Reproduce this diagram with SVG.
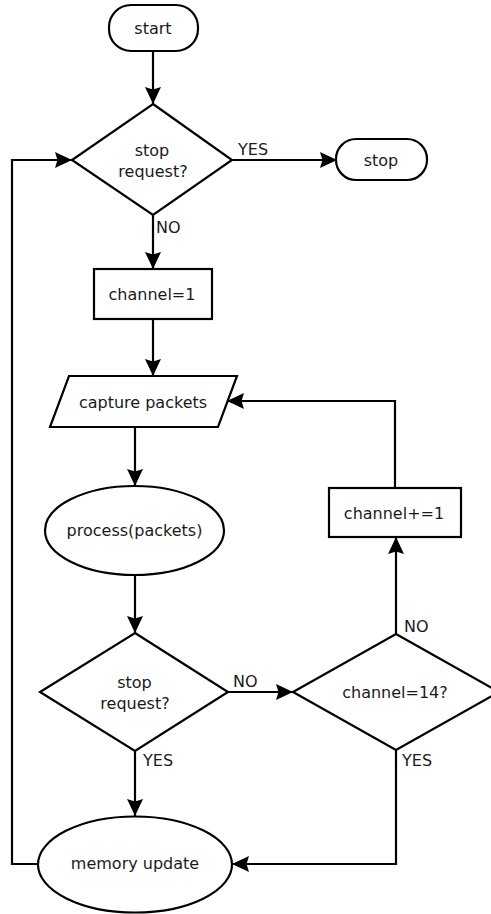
<svg xmlns="http://www.w3.org/2000/svg" width="491" height="914" viewBox="0 0 491 914">
<defs>
<style>
.s{fill:#fff;stroke:#000;stroke-width:2.2}
.c{fill:none;stroke:#000;stroke-width:2.2}
text{font-family:"DejaVu Sans",sans-serif;font-size:16px;fill:#1a1a1a}
.m{text-anchor:middle}
</style>
<marker id="a" viewBox="0 0 17 16" refX="17" refY="8" markerWidth="17" markerHeight="16" markerUnits="userSpaceOnUse" orient="auto">
<path d="M0,0 L17,8 L0,16 L2.5,8 Z" fill="#000"/>
</marker>
</defs>
<rect width="491" height="914" fill="#fff"/>
<g id="connectors">
<path class="c" d="M153,52 V104" marker-end="url(#a)"/>
<path class="c" d="M232,160 H337" marker-end="url(#a)"/>
<path class="c" d="M38,864 H12 V160 H72" marker-end="url(#a)"/>
<path class="c" d="M153,215 V269" marker-end="url(#a)"/>
<path class="c" d="M153,319 V376" marker-end="url(#a)"/>
<path class="c" d="M395,488 V401 H227" marker-end="url(#a)"/>
<path class="c" d="M135,427 V486" marker-end="url(#a)"/>
<path class="c" d="M135,575 V633" marker-end="url(#a)"/>
<path class="c" d="M228,692 H293" marker-end="url(#a)"/>
<path class="c" d="M396,634 V537" marker-end="url(#a)"/>
<path class="c" d="M135,751 V816" marker-end="url(#a)"/>
<path class="c" d="M396,750 V864 H232" marker-end="url(#a)"/>
<text x="238" y="155">YES</text>
<text x="156" y="233">NO</text>
<text x="233" y="687">NO</text>
<text x="404" y="632">NO</text>
<text x="143" y="766">YES</text>
<text x="402" y="766">YES</text>
</g>
<g id="start">
<rect class="s" x="109" y="5" width="89" height="46" rx="22"/>
<text class="m" x="153" y="34">start</text>
</g>
<g id="stop-request-1">
<polygon class="s" points="153,104 232,160 153,215 72,160"/>
<text class="m" x="152" y="156">stop</text>
<text class="m" x="153" y="177">request?</text>
</g>
<g id="stop">
<rect class="s" x="336" y="139" width="91" height="41" rx="20"/>
<text class="m" x="381" y="166">stop</text>
</g>
<g id="channel-1">
<rect class="s" x="94" y="269" width="118" height="50"/>
<text class="m" x="152" y="300">channel=1</text>
</g>
<g id="capture-packets">
<polygon class="s" points="69,376 237,376 218,427 50,427"/>
<text class="m" x="143" y="408">capture packets</text>
</g>
<g id="channel-inc">
<rect class="s" x="329" y="488" width="132" height="49"/>
<text class="m" x="394" y="519">channel+=1</text>
</g>
<g id="process-packets">
<ellipse class="s" cx="134.5" cy="530.5" rx="89.5" ry="44.5"/>
<text class="m" x="134.5" y="536">process(packets)</text>
</g>
<g id="stop-request-2">
<polygon class="s" points="135,633 228,692 135,751 40,692"/>
<text class="m" x="134.5" y="688">stop</text>
<text class="m" x="135" y="709">request?</text>
</g>
<g id="channel-14">
<polygon class="s" points="396,634 499,692 396,750 293,692"/>
<text class="m" x="395" y="698">channel=14?</text>
</g>
<g id="memory-update">
<ellipse class="s" cx="135" cy="864.5" rx="97" ry="48"/>
<text class="m" x="135" y="869">memory update</text>
</g>
</svg>
